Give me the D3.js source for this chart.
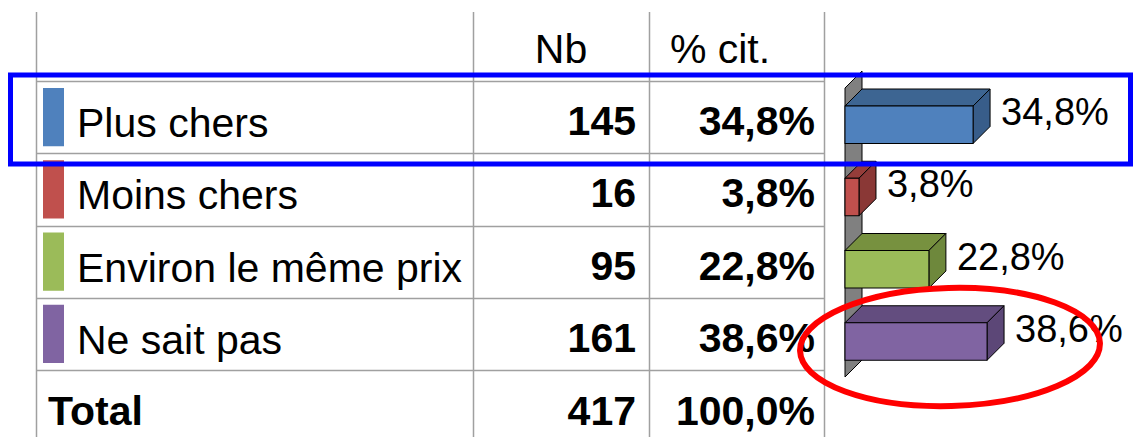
<!DOCTYPE html>
<html><head><meta charset="utf-8">
<script src="https://cdn.jsdelivr.net/npm/d3@7"></script>
<style>html,body{margin:0;padding:0;background:#fff;}svg{display:block;}</style>
</head><body>
<svg id="chart" width="1135" height="437"></svg>
<script>
const categories = ["Plus chers", "Moins chers", "Environ le même prix", "Ne sait pas"];
const counts = [145, 16, 95, 161];
const percents = [34.8, 3.8, 22.8, 38.6];
const colorsFront = ["#4F81BD", "#C0504D", "#9BBB59", "#8064A2"];
const colorsTop = ["#3D6592", "#953D3A", "#77913F", "#634D7F"];
const colorsSide = ["#385D8A", "#8A3836", "#6E883C", "#5C4777"];
const headers = ["Nb", "% cit."];
const totalLabel = "Total";
const totalCount = 417;
const totalPercent = 100.0;

const svg = d3.select("#chart");
const font = "'Liberation Sans', Arial, sans-serif";
const gridColor = "#a0a0a0";

const rows = categories.concat([totalLabel]);
const y = d3.scaleBand().domain(rows).range([81, 81 + 72.25 * rows.length]).paddingInner(0).paddingOuter(0);
const x = d3.scaleLinear().domain([0, 40]).range([845, 845 + 147.2]);
const fmtPct = v => d3.format(".1f")(v).replace(".", ",") + "%";

const colX = [36, 473, 649, 824];
const topY = 12;

// horizontal grid lines
svg.append("g").selectAll("line").data(rows).join("line")
  .attr("x1", colX[0]).attr("x2", colX[3])
  .attr("y1", d => Math.round(y(d)) + 0.5).attr("y2", d => Math.round(y(d)) + 0.5)
  .attr("stroke", gridColor).attr("stroke-width", 1.5);
// vertical grid lines
svg.append("g").selectAll("line").data(colX).join("line")
  .attr("x1", d => d + 0.5).attr("x2", d => d + 0.5)
  .attr("y1", topY).attr("y2", 437)
  .attr("stroke", gridColor).attr("stroke-width", 1.5);

// headers
svg.append("text").attr("x", 561).attr("y", 63).attr("text-anchor", "middle")
  .attr("font-family", font).attr("font-size", 41).text(headers[0]);
svg.append("text").attr("x", 720).attr("y", 63).attr("text-anchor", "middle")
  .attr("font-family", font).attr("font-size", 41).text(headers[1]);

// swatches
svg.append("g").selectAll("rect").data(categories).join("rect")
  .attr("x", 43).attr("width", 21)
  .attr("y", d => y(d) + 7).attr("height", y.bandwidth() - 14)
  .attr("fill", (d, i) => colorsFront[i]);

// category labels
svg.append("g").selectAll("text").data(categories).join("text")
  .attr("x", 77).attr("y", d => y(d) + 56)
  .attr("font-family", font).attr("font-size", 41)
  .text(d => d);

// counts
svg.append("g").selectAll("text").data(counts).join("text")
  .attr("x", 636).attr("y", (d, i) => y(categories[i]) + 54)
  .attr("text-anchor", "end").attr("font-family", font).attr("font-size", 41).attr("font-weight", "bold")
  .text(d => d);
// percents
svg.append("g").selectAll("text").data(percents).join("text")
  .attr("x", 815).attr("y", (d, i) => y(categories[i]) + 54)
  .attr("text-anchor", "end").attr("font-family", font).attr("font-size", 41).attr("font-weight", "bold")
  .text(d => fmtPct(d));

// total row
svg.append("text").attr("x", 48).attr("y", y(totalLabel) + 55)
  .attr("font-family", font).attr("font-size", 41).attr("font-weight", "bold").text(totalLabel);
svg.append("text").attr("x", 636).attr("y", y(totalLabel) + 55).attr("text-anchor", "end")
  .attr("font-family", font).attr("font-size", 41).attr("font-weight", "bold").text(totalCount);
svg.append("text").attr("x", 815).attr("y", y(totalLabel) + 55).attr("text-anchor", "end")
  .attr("font-family", font).attr("font-size", 41).attr("font-weight", "bold").text(fmtPct(totalPercent));

// 3D bar chart
const depth = 17;
const x0 = x(0);
const wallTop = y(categories[0]) + 7;
const wallBottom = y(categories[categories.length - 1]) + y.bandwidth() + 7;
svg.append("path")
  .attr("d", `M${x0},${wallTop} L${x0 + depth},${wallTop - depth} L${x0 + depth},${wallBottom - depth} L${x0},${wallBottom} Z`)
  .attr("fill", "#808080").attr("stroke", "#000").attr("stroke-width", 1);

const barH = 37.5;
const bars = svg.append("g").selectAll("g").data(percents).join("g");
bars.each(function(v, i) {
  const g = d3.select(this);
  const by = y(categories[i]) + 25;
  const bx1 = x(v);
  // top face
  g.append("path")
    .attr("d", `M${x0},${by} L${x0 + depth},${by - depth} L${bx1 + depth},${by - depth} L${bx1},${by} Z`)
    .attr("fill", colorsTop[i]).attr("stroke", "#000").attr("stroke-width", 1);
  // side face
  g.append("path")
    .attr("d", `M${bx1},${by} L${bx1 + depth},${by - depth} L${bx1 + depth},${by + barH - depth} L${bx1},${by + barH} Z`)
    .attr("fill", colorsSide[i]).attr("stroke", "#000").attr("stroke-width", 1);
  // front face
  g.append("rect").attr("x", x0).attr("y", by).attr("width", bx1 - x0).attr("height", barH)
    .attr("fill", colorsFront[i]).attr("stroke", "#000").attr("stroke-width", 1);
  // label
  g.append("text").attr("x", bx1 + depth + 11).attr("y", by + 19)
    .attr("font-family", font).attr("font-size", 38).text(fmtPct(v));
});

// highlight annotations
svg.append("rect").attr("x", 10.5).attr("y", 75).attr("width", 1120).attr("height", 89)
  .attr("fill", "none").attr("stroke", "#0000FF").attr("stroke-width", 5);
svg.append("ellipse").attr("cx", 950).attr("cy", 347).attr("rx", 150).attr("ry", 59)
  .attr("transform", "rotate(-1.5,950,347)")
  .attr("fill", "none").attr("stroke", "#FF0000").attr("stroke-width", 6);
</script>
</body></html>
